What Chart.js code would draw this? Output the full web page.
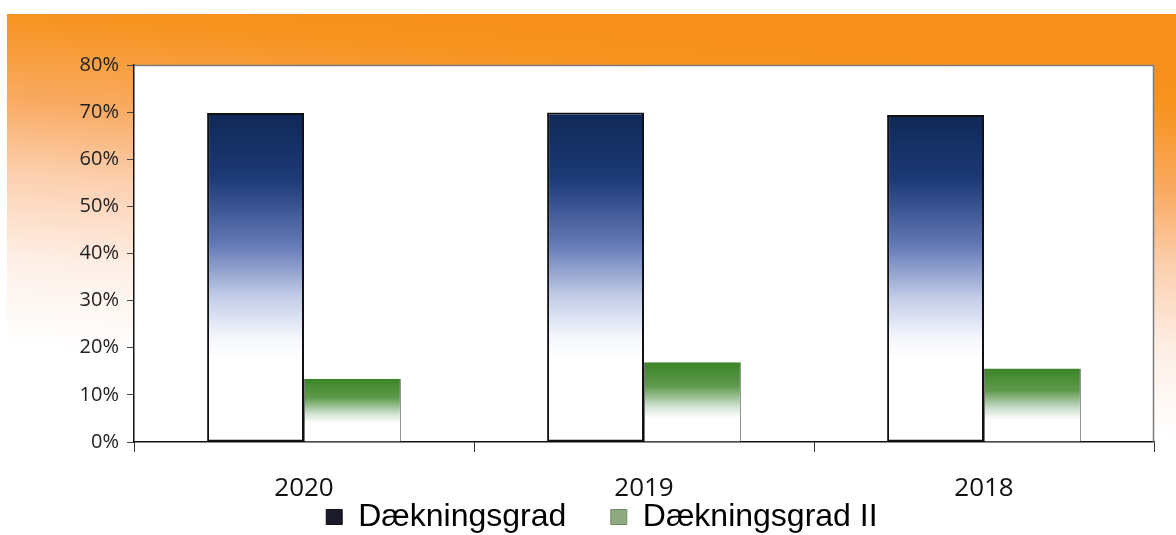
<!DOCTYPE html>
<html>
<head>
<meta charset="utf-8">
<script src="https://cdn.jsdelivr.net/npm/chart.js@4.4.1/dist/chart.umd.min.js"></script>
<style>
  html, body { margin: 0; padding: 0; background: #fff; }
  #wrap { width: 1176px; height: 535px; }
</style>
</head>
<body>
<div id="wrap"><canvas id="coverageChart"></canvas></div>
<script>
// Chart values (percent)
var years = ['2020', '2019', '2018'];
var daekningsgrad = [69.8, 69.9, 69.4];
var daekningsgradII = [13.4, 16.9, 15.6];
var yTicks = [0, 10, 20, 30, 40, 50, 60, 70, 80];

// Orange backdrop and white plot area
var backdrop = {
    id: 'backdrop',
    beforeDraw: function (chart) {
        var ctx = chart.ctx;
        var w = chart.width, h = chart.height;
        ctx.save();
        ctx.fillStyle = '#fff';
        ctx.fillRect(0, 0, w, h);
        var g = ctx.createLinearGradient(600, 14, 570, 390);
        g.addColorStop(0, '#f78f1a');
        g.addColorStop(0.12, '#f7931e');
        g.addColorStop(0.35, '#f9aa62');
        g.addColorStop(0.55, '#fcd0b0');
        g.addColorStop(0.78, '#fef0e8');
        g.addColorStop(1, '#ffffff');
        ctx.fillStyle = g;
        ctx.fillRect(7, 14, w - 7, h - 14);
        var a = chart.chartArea;
        ctx.fillStyle = '#fff';
        ctx.fillRect(a.left, a.top, a.right - a.left, a.bottom - a.top);
        ctx.restore();
    },
    afterDatasetsDraw: function (chart) {
        var ctx = chart.ctx, a = chart.chartArea;
        ctx.save();
        ctx.strokeStyle = '#7c7c7c';
        ctx.lineWidth = 1.5;
        ctx.beginPath();
        ctx.moveTo(a.left, a.top + 0.5);
        ctx.lineTo(a.right - 0.5, a.top + 0.5);
        ctx.lineTo(a.right - 0.5, a.bottom);
        ctx.stroke();
        ctx.restore();
    }
};

function barGradient(context, stops) {
    var chart = context.chart;
    if (!chart.chartArea || !chart.scales.y) return stops[0][1];
    var y = chart.scales.y;
    var top = y.getPixelForValue(context.raw);
    var base = y.getPixelForValue(0);
    var g = chart.ctx.createLinearGradient(0, top, 0, base);
    stops.forEach(function (s) { g.addColorStop(s[0], s[1]); });
    return g;
}

var navyStops = [[0, '#0f2856'], [0.2, '#1d3a78'], [0.4, '#6479b6'], [0.56, '#c3cde8'], [0.68, '#f4f6fc'], [0.75, '#ffffff'], [1, '#ffffff']];
var greenStops = [[0, '#3a8526'], [0.3, '#5f9a4c'], [0.55, '#cfe1d2'], [0.7, '#ffffff'], [1, '#ffffff']];

var ctx = document.getElementById('coverageChart').getContext('2d');
new Chart(ctx, {
    type: 'bar',
    data: {
        labels: years,
        datasets: [{
            label: 'Dækningsgrad',
            data: daekningsgrad,
            backgroundColor: function (c) { return barGradient(c, navyStops); },
            borderColor: '#111',
            borderWidth: 2,
            borderSkipped: false,
            categoryPercentage: 0.57,
            barPercentage: 1.0
        }, {
            label: 'Dækningsgrad II',
            data: daekningsgradII,
            backgroundColor: function (c) { return barGradient(c, greenStops); },
            borderColor: '#7a7a7a',
            borderWidth: { top: 0, left: 1, right: 1, bottom: 0 },
            borderSkipped: false,
            categoryPercentage: 0.57,
            barPercentage: 1.0
        }]
    },
    options: {
        responsive: true,
        maintainAspectRatio: false,
        animation: false,
        layout: { padding: { top: 65, right: 22, left: 0, bottom: -8 } },
        plugins: {
            tooltip: { enabled: false },
            legend: {
                position: 'bottom',
                labels: {
                    font: { family: '"Liberation Sans", Arial, sans-serif', size: 32 },
                    color: '#111',
                    boxWidth: 16,
                    boxHeight: 15,
                    padding: 0,
                    generateLabels: function () {
                        // first entry is an empty spacer to nudge the legend right
                        return [
                            { text: '  ', fillStyle: 'rgba(0,0,0,0)', strokeStyle: 'rgba(0,0,0,0)', lineWidth: 0 },
                            { text: 'Dækningsgrad     ', fillStyle: '#1a1a2a', strokeStyle: '#111', lineWidth: 1, datasetIndex: 0 },
                            { text: 'Dækningsgrad II', fillStyle: '#8faa80', strokeStyle: '#6f8a62', lineWidth: 1, datasetIndex: 1 }
                        ];
                    }
                }
            }
        },
        scales: {
            x: {
                grid: { display: true, drawOnChartArea: false, drawTicks: true, tickLength: 10, color: '#333', offset: true },
                border: { display: true, color: '#111', width: 1.5 },
                ticks: {
                    color: '#111',
                    font: { family: '"Open Sans", sans-serif', size: 26 },
                    padding: 21
                },
                afterFit: function (scale) { scale.height = 59; }
            },
            y: {
                min: 0,
                max: 80,
                afterBuildTicks: function (scale) {
                    scale.ticks = yTicks.map(function (v) { return { value: v }; });
                },
                grid: { display: true, drawOnChartArea: false, drawTicks: true, tickLength: 7, color: '#444' },
                border: { display: true, color: '#111', width: 1.5 },
                ticks: {
                    color: '#222',
                    font: { family: '"Open Sans", sans-serif', size: 20 },
                    padding: 8,
                    callback: function (v) { return v + '%'; }
                },
                afterFit: function (scale) { scale.width = 134; }
            }
        }
    },
    plugins: [backdrop]
});
</script>
</body>
</html>
